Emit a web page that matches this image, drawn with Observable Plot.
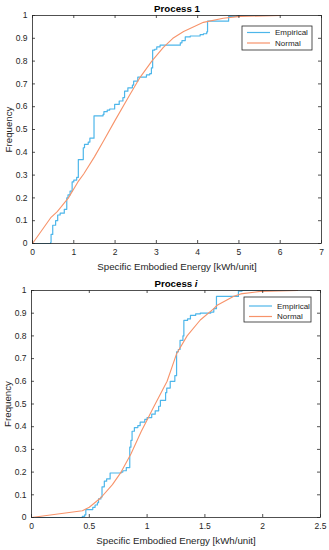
<!DOCTYPE html>
<html><head><meta charset="utf-8">
<script src="https://cdn.jsdelivr.net/npm/d3@7"></script>
<script src="https://cdn.jsdelivr.net/npm/@observablehq/plot@0.6"></script>
<style>
body{margin:0;background:#fff;width:329px;height:550px;overflow:hidden}
svg{display:block}
</style></head><body><div id="c"></div>
<script>
const topTitle = "Process 1";
const botTitle = "Process i";
const xLabel = "Specific Embodied Energy [kWh/unit]";
const yLabel = "Frequency";
const seriesNames = ["Empirical", "Normal"];
const seriesColors = ["#4DB6EA", "#F7936A"];
const topXTicks = [0, 1, 2, 3, 4, 5, 6, 7];
const botXTicks = [0, 0.5, 1, 1.5, 2, 2.5];
const yTicks = [0, 0.1, 0.2, 0.3, 0.4, 0.5, 0.6, 0.7, 0.8, 0.9, 1];

const topEmpX = [0,0.44,0.45,0.49,0.56,0.61,0.67,0.77,0.83,0.86,0.91,0.96,1.0,1.07,1.11,1.23,1.26,1.35,1.39,1.49,1.71,1.73,1.81,1.87,1.99,2.10,2.19,2.23,2.31,2.42,2.45,2.55,2.76,2.84,2.88,2.91,2.96,3.01,3.09,3.58,3.62,3.70,3.82,4.06,4.14,4.22,4.24,4.75,4.95,6.0];
const topEmpY = [0,0.005,0.04,0.08,0.10,0.125,0.133,0.15,0.20,0.213,0.23,0.27,0.278,0.29,0.368,0.42,0.435,0.445,0.462,0.56,0.566,0.578,0.585,0.59,0.61,0.625,0.64,0.668,0.683,0.695,0.712,0.73,0.74,0.745,0.77,0.848,0.852,0.862,0.87,0.88,0.89,0.906,0.91,0.916,0.92,0.928,0.975,0.996,1.0,1.0];
const topNormX = [0,0.45,0.6,0.87,1.1,1.24,1.5,1.72,2.0,2.35,2.61,2.89,3.17,3.4,3.66,4.14,4.62,5.03,6.0];
const topNormY = [0,0.115,0.14,0.2,0.27,0.305,0.38,0.45,0.54,0.65,0.73,0.80,0.86,0.9,0.93,0.97,0.988,0.996,1.0];

const botEmpX = [0,0.44,0.46,0.47,0.53,0.55,0.57,0.58,0.60,0.61,0.63,0.65,0.68,0.775,0.79,0.82,0.85,0.86,0.87,0.89,0.92,0.94,0.98,1.0,1.04,1.07,1.1,1.115,1.16,1.17,1.2,1.24,1.255,1.27,1.285,1.31,1.318,1.35,1.375,1.42,1.46,1.55,1.577,1.60,1.79,1.82,2.3];
const botEmpY = [0,0.005,0.012,0.035,0.045,0.055,0.065,0.082,0.09,0.135,0.16,0.17,0.196,0.2,0.206,0.22,0.31,0.34,0.38,0.396,0.405,0.42,0.432,0.44,0.455,0.47,0.49,0.516,0.55,0.57,0.6,0.625,0.73,0.74,0.78,0.80,0.868,0.875,0.89,0.897,0.9,0.905,0.92,0.974,0.997,1.0,1.0];
const botNormX = [0,0.44,0.5,0.6,0.7,0.775,0.86,0.95,1.0,1.05,1.173,1.254,1.346,1.46,1.577,1.606,1.75,1.81,1.98,2.3];
const botNormY = [0,0.03,0.045,0.087,0.145,0.2,0.28,0.38,0.43,0.48,0.60,0.72,0.80,0.87,0.92,0.935,0.975,0.985,0.996,1.0];

const FONT = "'Liberation Sans', Arial, Helvetica, sans-serif";
const AXC = "#262626";

function zip(xs, ys) { return xs.map((x, i) => ({x, y: ys[i]})); }

function panel(o) {
  const W = 329, H = 275;
  const fw = W - o.ml - o.mr, fh = H - o.mt - o.mb;
  const svg = Plot.plot({
    width: W, height: H,
    marginTop: o.mt, marginBottom: o.mb, marginLeft: o.ml, marginRight: o.mr,
    style: {fontFamily: FONT, fontSize: "8.5px", color: AXC, background: "#fff"},
    x: {domain: o.xDomain},
    y: {domain: [0, 1]},
    marks: [
      Plot.line(zip(o.empX, o.empY), {x: "x", y: "y", curve: "step-after", stroke: seriesColors[0], strokeWidth: 1.2}),
      Plot.line(zip(o.normX, o.normY), {x: "x", y: "y", stroke: seriesColors[1], strokeWidth: 1.1}),
      Plot.frame({stroke: AXC, strokeWidth: 0.8}),
      Plot.ruleX(o.xTicks, {x: d => d, insetTop: fh - 3, stroke: AXC, strokeWidth: 0.8}),
      Plot.ruleX(o.xTicks, {x: d => d, insetBottom: fh - 3, stroke: AXC, strokeWidth: 0.8}),
      Plot.ruleY(yTicks, {y: d => d, insetRight: fw - 3, stroke: AXC, strokeWidth: 0.8}),
      Plot.ruleY(yTicks, {y: d => d, insetLeft: fw - 3, stroke: AXC, strokeWidth: 0.8}),
      Plot.axisX(o.xTicks, {tickSize: 0, tickPadding: 5, label: null, tickFormat: d => String(d), fill: AXC}),
      Plot.axisY(yTicks, {tickSize: 0, tickPadding: 5, label: null, tickFormat: d => String(d), fill: AXC}),
      Plot.text([xLabel], {text: d => d, frameAnchor: "bottom", dy: 23, lineAnchor: "middle", textAnchor: "middle", fontSize: 9.7, fill: AXC}),
      Plot.text([yLabel], {text: d => d, frameAnchor: "left", dx: -24, rotate: -90, lineAnchor: "middle", textAnchor: "middle", fontSize: 9.7, fill: AXC}),
      Plot.text([o.title], {text: d => d, frameAnchor: "top", dy: -7, lineAnchor: "middle", textAnchor: "middle", fontSize: 9.7, fontWeight: "bold", fill: "#000", className: "ttl"})
    ]
  });
  // legend
  const g = d3.select(svg).append("g").attr("font-family", FONT).attr("font-size", 8).attr("text-anchor", "start");
  const L = o.legend;
  g.append("rect").attr("x", L.x).attr("y", L.y).attr("width", L.w).attr("height", L.h)
    .attr("fill", "#fff").attr("stroke", AXC).attr("stroke-width", 0.8);
  seriesNames.forEach((name, i) => {
    const cy = L.rows[i];
    g.append("line").attr("x1", L.x + 5).attr("x2", L.x + 28).attr("y1", cy).attr("y2", cy)
      .attr("stroke", seriesColors[i]).attr("stroke-width", 1.2);
    g.append("text").attr("x", L.x + 33).attr("y", cy).attr("dy", "0.35em").attr("text-anchor", "start").attr("fill", AXC).text(name);
  });
  if (o.italicTitle) {
    const t = d3.select(svg).select(".ttl text");
    const parts = o.title.split(" ");
    t.text("");
    t.append("tspan").text(parts[0] + " ");
    t.append("tspan").attr("font-style", "italic").text(parts[1]);
  }
  return svg;
}

const c = document.getElementById("c");
c.appendChild(panel({
  title: topTitle, xDomain: [0, 7], xTicks: topXTicks,
  empX: topEmpX, empY: topEmpY, normX: topNormX, normY: topNormY,
  mt: 15, mb: 32, ml: 32, mr: 8,
  legend: {x: 242, y: 26, w: 70, h: 24, rows: [32.5, 43]}
}));
c.appendChild(panel({
  title: botTitle, xDomain: [0, 2.5], xTicks: botXTicks,
  empX: botEmpX, empY: botEmpY, normX: botNormX, normY: botNormY,
  mt: 15, mb: 33, ml: 31, mr: 9, italicTitle: true,
  legend: {x: 244, y: 22, w: 67, h: 25, rows: [31, 41.5]}
}));
</script></body></html>
